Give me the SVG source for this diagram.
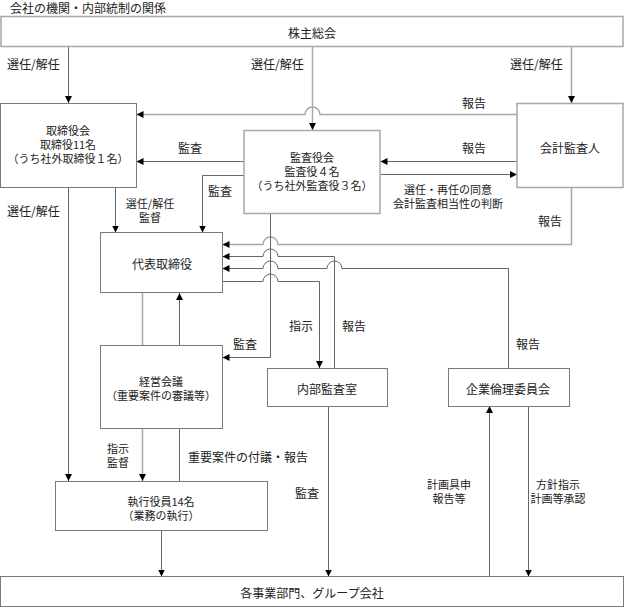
<svg xmlns="http://www.w3.org/2000/svg" width="625" height="607" viewBox="0 0 625 607">
<style>
text{font-family:"Noto Sans CJK JP","Liberation Serif",sans-serif;font-size:12px;fill:#222;dominant-baseline:central}
.c{text-anchor:middle}
.s{font-size:11px}
rect{fill:#fff;stroke:#7a7a7a;stroke-width:1}
.g rect{stroke:#a8a8a8;stroke-width:1.5}
#connectors path{fill:none;stroke:#666;stroke-width:1}
#connectors path.l{stroke:#a8a8a8;stroke-width:1.5}
</style>
<defs>
<marker id="a" markerUnits="userSpaceOnUse" markerWidth="8" markerHeight="8" refX="7" refY="3.5" orient="auto">
<path d="M0,0 L7,3.5 L0,7 z" fill="#000"/>
</marker>
</defs>
<rect x="0" y="0" width="625" height="607" style="fill:#fff;stroke:none"/>
<text x="10" y="7.5">会社の機関・内部統制の関係</text>

<g id="connectors">
<path d="M68.5,46.5 V103" marker-end="url(#a)"/>
<path class="l" d="M312.5,46.5 V130" marker-end="url(#a)"/>
<path class="l" d="M571.5,46.5 V103" marker-end="url(#a)"/>
<path class="l" d="M517,114.5 H320 A7.5,7.5 0 0 0 305,114.5 H136.5" marker-end="url(#a)"/>
<path d="M244,161.5 H136.5" marker-end="url(#a)"/>
<path d="M244,175.5 H202.5 V232.5" marker-end="url(#a)"/>
<path d="M517,161.5 H380.5" marker-end="url(#a)"/>
<path d="M380.5,174.5 H517" marker-end="url(#a)"/>
<path class="l" d="M571.5,187 V244.5 H278 A7.5,7.5 0 0 0 263,244.5 H222.5" marker-end="url(#a)"/>
<path d="M115.5,187 V232.5" marker-end="url(#a)"/>
<path d="M68.5,187 V481" marker-end="url(#a)"/>
<path d="M270.5,213 V357.5 H222.5" marker-end="url(#a)"/>
<path d="M334.5,368 V256.5 H278 A7.5,7.5 0 0 0 263,256.5 H222.5" marker-end="url(#a)"/>
<path d="M508.5,368 V268.5 H342 A7.5,7.5 0 0 0 327,268.5 H278 A7.5,7.5 0 0 0 263,268.5 H222.5" marker-end="url(#a)"/>
<path d="M222.5,281.5 H263 A7.5,7.5 0 0 1 278,281.5 H319.5 V368" marker-end="url(#a)"/>
<path class="l" d="M142.5,293 V345"/>
<path d="M179.5,345 V293" marker-end="url(#a)"/>
<path class="l" d="M142.5,428 V481" marker-end="url(#a)"/>
<path d="M179.5,428 V481"/>
<path d="M161.5,530 V576.5" marker-end="url(#a)"/>
<path d="M328.5,406 V576.5" marker-end="url(#a)"/>
<path d="M489.5,576.5 V406" marker-end="url(#a)"/>
<path d="M528.5,406 V576.5" marker-end="url(#a)"/>
</g>

<g id="labels">
<text x="7" y="63">選任/解任</text>
<text x="251" y="63">選任/解任</text>
<text x="510" y="63">選任/解任</text>
<text class="c" x="474" y="102">報告</text>
<text class="c" x="190" y="147">監査</text>
<text class="c" x="474" y="147">報告</text>
<text class="c" x="220" y="190">監査</text>
<text class="c s" x="448" y="189">選任・再任の同意</text>
<text class="c s" x="448" y="203">会計監査相当性の判断</text>
<text class="c" x="550" y="220">報告</text>
<text class="c s" x="150" y="203">選任/解任</text>
<text class="c s" x="150" y="217">監督</text>
<text x="7" y="210">選任/解任</text>
<text class="c" x="301" y="325">指示</text>
<text class="c" x="354" y="325">報告</text>
<text class="c" x="528" y="343">報告</text>
<text class="c" x="245" y="343">監査</text>
<text class="c s" x="118" y="448">指示</text>
<text class="c s" x="118" y="462">監督</text>
<text x="188" y="456">重要案件の付議・報告</text>
<text class="c" x="307" y="492">監査</text>
<text class="c s" x="449" y="484">計画具申</text>
<text class="c s" x="449" y="498">報告等</text>
<text class="c s" x="558" y="484">方針指示</text>
<text class="c s" x="558" y="498">計画等承認</text>
</g>

<g id="shareholders" class="g">
<rect x="1" y="16.5" width="622" height="30"/>
<text class="c" x="312" y="32">株主総会</text>
</g>
<g id="board">
<rect x="0.5" y="103.5" width="136" height="84"/>
<text class="c s" x="68" y="130">取締役会</text>
<text class="c s" x="68" y="144">取締役11名</text>
<text class="c s" x="68" y="158">（うち社外取締役１名）</text>
</g>
<g id="auditors" class="g">
<rect x="244" y="130.5" width="136" height="83"/>
<text class="c s" x="312" y="157">監査役会</text>
<text class="c s" x="312" y="171">監査役４名</text>
<text class="c s" x="312" y="185">（うち社外監査役３名）</text>
</g>
<g id="accounting-auditor" class="g">
<rect x="517" y="103.5" width="106" height="84"/>
<text class="c" x="570" y="147">会計監査人</text>
</g>
<g id="representative">
<rect x="100.5" y="232.5" width="122" height="60"/>
<text class="c" x="162" y="263">代表取締役</text>
</g>
<g id="management-meeting">
<rect x="100.5" y="345.5" width="122" height="83"/>
<text class="c s" x="161" y="381">経営会議</text>
<text class="c s" x="161" y="395">（重要案件の審議等）</text>
</g>
<g id="internal-audit">
<rect x="267.5" y="368.5" width="120" height="38"/>
<text class="c" x="327" y="388">内部監査室</text>
</g>
<g id="ethics-committee">
<rect x="448.5" y="368.5" width="121" height="38"/>
<text class="c" x="508" y="388">企業倫理委員会</text>
</g>
<g id="executive-officers">
<rect x="55.5" y="481.5" width="212" height="49"/>
<text class="c s" x="161" y="501">執行役員14名</text>
<text class="c s" x="161" y="515">（業務の執行）</text>
</g>
<g id="business-units">
<rect x="0.5" y="576.5" width="623" height="30"/>
<text class="c" x="312" y="592">各事業部門、グループ会社</text>
</g>
</svg>
